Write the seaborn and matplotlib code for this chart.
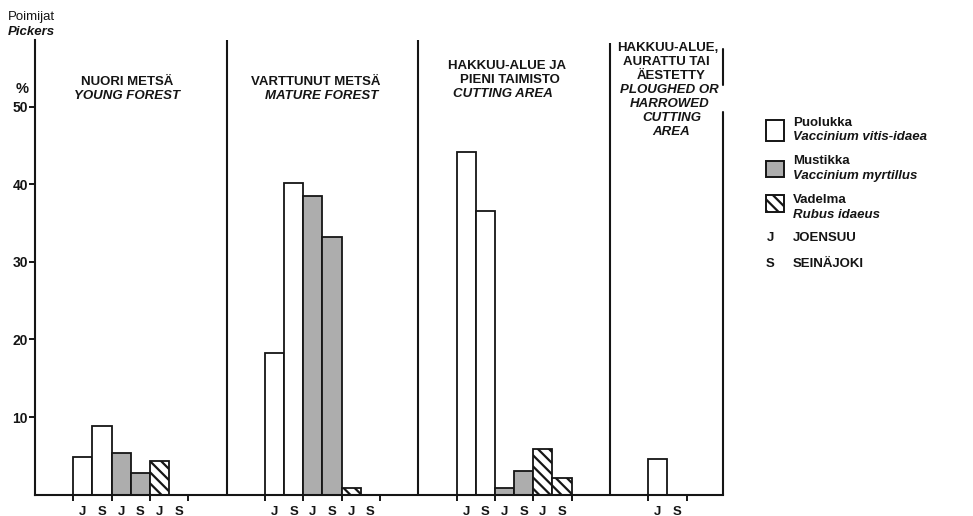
import numpy as np
import pandas as pd
import matplotlib
matplotlib.use("Agg")
import matplotlib.pyplot as plt
from matplotlib.patches import Rectangle
import seaborn as sns

# ---- data -------------------------------------------------------------
habitats = ["NUORI METSÄ", "VARTTUNUT METSÄ", "HAKKUU-ALUE JA PIENI TAIMISTO",
            "HAKKUU-ALUE, AURATTU TAI ÄESTETTY"]
towns = ["J", "S"]  # J = Joensuu, S = Seinäjoki

# share of pickers (%) per habitat, ordered J, S within each habitat
puolukka = [4.8, 8.8, 18.3, 40.2, 44.2, 36.6, 4.6, 0.0]
mustikka = [5.3, 2.8, 38.5, 33.2, 0.9, 3.1]
vadelma = [4.3, 0.0, 0.9, 0.0, 5.9, 2.2]

species = ["Puolukka", "Mustikka", "Vadelma"]
species_latin = ["Vaccinium vitis-idaea", "Vaccinium myrtillus", "Rubus idaeus"]
y_ticks = [10, 20, 30, 40, 50]

# ---- style ------------------------------------------------------------
sns.set_theme(style="white")
plt.rcParams["font.family"] = ["Liberation Sans", "DejaVu Sans"]
plt.rcParams["font.weight"] = "bold"
plt.rcParams["hatch.linewidth"] = 1.6
plt.rcParams["hatch.color"] = "black"
INK = "#151515"
FS = 9.5

W, H = 973, 516
fig = plt.figure(figsize=(W / 100, H / 100), dpi=100)
fig.patch.set_facecolor("white")

# axes frame in pixel terms: left spine at x=35, baseline at y=494.6, top at y=40
ax = fig.add_axes([35 / W, (H - 494.6) / H, 688 / W, (494.6 - 40) / H])
ax.set_facecolor("white")

PANEL = 10          # slots per habitat panel
OFFSET = 2          # empty slots before the first bar of a panel
XMAX = 35.9
YMAX = 58.6


def positions(species_index, n_habitats):
    """Bar centres for one species: J and S side by side in each panel."""
    pos = []
    for h in range(n_habitats):
        for t in range(2):
            pos.append(PANEL * h + OFFSET + 2 * species_index + t + 0.5)
    return pos


fills = ["white", "#adadad", "white"]
hatches = [None, None, "\\\\\\"]
series = [puolukka, mustikka, vadelma]

for i, vals in enumerate(series):
    df = pd.DataFrame({"pos": positions(i, len(vals) // 2), "value": vals})
    sns.barplot(data=df, x="pos", y="value", native_scale=True, width=1.0,
                color=fills[i], saturation=1, edgecolor=INK, linewidth=1.3,
                hatch=hatches[i], errorbar=None, ax=ax)

ax.set_xlim(0, XMAX)
ax.set_ylim(0, YMAX)
ax.set_xlabel("")
ax.set_ylabel("")

# spines: left axis and baseline; panel dividers and the broken right border
for side in ["top", "right"]:
    ax.spines[side].set_visible(False)
for side in ["left", "bottom"]:
    ax.spines[side].set_linewidth(1.5)
    ax.spines[side].set_color(INK)

for h in range(1, 4):
    top = YMAX if h < 3 else 58.2
    ax.plot([PANEL * h, PANEL * h], [0, top], color=INK, lw=1.5,
            clip_on=False, solid_capstyle="butt")
ax.plot([XMAX, XMAX], [0, 49.3], color=INK, lw=1.5, clip_on=False)
ax.plot([XMAX, XMAX], [52.8, 57.5], color=INK, lw=1.5, clip_on=False)

# x ticks: marks between town pairs, letters under each bar
tick_marks, label_pos, label_txt = [], [], []
for h in range(4):
    n_species = 3 if h < 3 else 1
    for s in range(n_species + 1):
        tick_marks.append(PANEL * h + OFFSET + 2 * s)
    for s in range(n_species):
        for t in range(2):
            label_pos.append(PANEL * h + OFFSET + 2 * s + t + 0.5)
            label_txt.append(towns[t])

ax.set_xticks(label_pos)
ax.set_xticklabels(label_txt, fontsize=FS, color=INK, fontweight="bold")
ax.set_xticks(tick_marks, minor=True)
ax.tick_params(axis="x", which="major", length=0, pad=8)
ax.tick_params(axis="x", which="minor", length=4, width=1.4, color=INK,
               direction="out", bottom=True)

ax.set_yticks(y_ticks)
ax.set_yticklabels([str(v) for v in y_ticks], fontsize=FS + 0.5, color=INK,
                   fontweight="bold")
ax.tick_params(axis="y", which="major", length=4, width=1.4, color=INK,
               direction="out", left=True, pad=1)


def ftext(x, y, s, **kw):
    kw.setdefault("ha", "center")
    kw.setdefault("va", "center")
    kw.setdefault("fontsize", FS)
    kw.setdefault("color", INK)
    kw.setdefault("fontweight", "bold")
    fig.text(x / W, 1 - y / H, s, **kw)


# axis captions
ftext(8, 17, "Poimijat", ha="left", fontweight="normal")
ftext(8, 32, "Pickers", ha="left", style="italic")
ftext(22, 89, "%", fontsize=FS + 1)

# panel headings
ftext(127, 82, "NUORI METSÄ")
ftext(127, 96, "YOUNG FOREST", style="italic")
ftext(316, 82, "VARTTUNUT METSÄ")
ftext(322, 96, "MATURE FOREST", style="italic")
ftext(507, 66, "HAKKUU-ALUE JA")
ftext(510, 80, "PIENI TAIMISTO")
ftext(503, 94, "CUTTING AREA", style="italic")
head4 = [("HAKKUU-ALUE,", "normal", 668), ("AURATTU TAI", "normal", 666),
         ("ÄESTETTY", "normal", 671), ("PLOUGHED OR", "italic", 669),
         ("HARROWED", "italic", 670), ("CUTTING", "italic", 672),
         ("AREA", "italic", 671)]
for k, (txt, st, cx) in enumerate(head4):
    ftext(cx, 48 + 14 * k, txt, style=st)

# legend
boxes = [(120, 141), (161, 177), (195, 212)]
text_rows = [(123, 137), (161, 176), (200, 215)]
for i in range(3):
    y0, y1 = boxes[i]
    rect = Rectangle((766 / W, 1 - y1 / H), 18 / W, (y1 - y0) / H,
                     transform=fig.transFigure, facecolor=fills[i],
                     edgecolor=INK, linewidth=1.4, hatch=hatches[i])
    fig.add_artist(rect)
    ftext(793, text_rows[i][0], species[i], ha="left")
    ftext(793, text_rows[i][1], species_latin[i], ha="left", style="italic")

ftext(770, 238, "J", ha="center")
ftext(793, 238, "JOENSUU", ha="left")
ftext(770, 264, "S", ha="center")
ftext(793, 264, "SEINÄJOKI", ha="left")

fig.savefig("out.png", dpi=100, facecolor="white")
